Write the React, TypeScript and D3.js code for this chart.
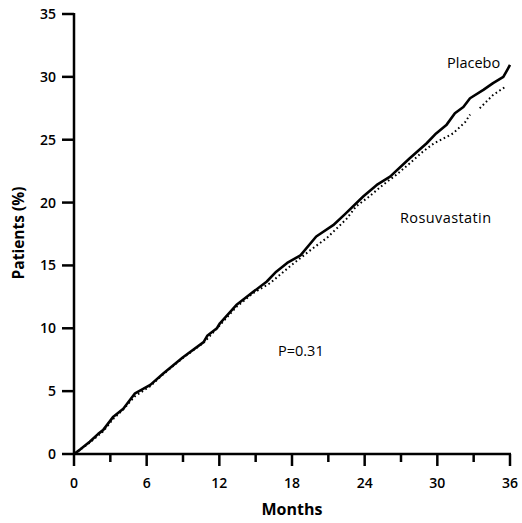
import React from "react";
import * as d3 from "d3";

// Months and cumulative percentages
const placeboMonths = [0, 0.5, 1.3, 2.0, 2.4, 3.25, 4.07, 5.04, 6.3, 7.37, 9.0, 10.7, 11.0, 11.8, 12.05, 13.4, 14.8, 15.9, 16.7, 17.6, 18.7, 20.0, 21.4, 22.4, 23.9, 25.0, 26.1, 27.7, 29.1, 29.9, 30.77, 31.45, 32.15, 32.7, 33.8, 34.6, 35.45, 35.8, 36];
const placeboValues = [0, 0.35, 0.98, 1.6, 1.9, 2.97, 3.6, 4.83, 5.5, 6.4, 7.7, 8.9, 9.4, 10.0, 10.4, 11.85, 12.9, 13.7, 14.5, 15.2, 15.8, 17.3, 18.2, 19.1, 20.5, 21.4, 22.06, 23.5, 24.7, 25.5, 26.2, 27.1, 27.6, 28.3, 28.96, 29.5, 30.0, 30.6, 30.95];

const rosuMonths = [0, 1.3, 2.4, 3.25, 4.07, 5.04, 6.3, 7.37, 9.0, 10.7, 12.0, 13.4, 14.8, 16.2, 17.8, 19.5, 20.9, 22.5, 23.3, 24.4, 25.5, 26.6, 27.7, 28.8, 29.7, 31.3, 32.3, 32.7, 33.5, 34.6, 35.6];
const rosuValues = [0, 0.9, 1.8, 2.8, 3.55, 4.6, 5.4, 6.35, 7.65, 8.85, 10.2, 11.7, 12.8, 13.6, 14.9, 16.2, 17.2, 18.7, 19.7, 20.5, 21.4, 22.2, 23.1, 24.05, 24.7, 25.5, 26.4, 27.0, 27.5, 28.56, 29.2];
// the dotted curve has a visible break here
const rosuGapAfter = 32.7;

const xTicks = [0, 6, 12, 18, 24, 30, 36];
const xMinorTicks = [3, 9, 15, 21, 27, 33];
const yTicks = [0, 5, 10, 15, 20, 25, 30, 35];

const W = 522;
const H = 523;
const font = "'Open Sans', 'DejaVu Sans', sans-serif";

export default function App() {
  const x = d3.scaleLinear().domain([0, 36]).range([74, 510]);
  const y = d3.scaleLinear().domain([0, 35]).range([454, 14]);

  const line = d3
    .line<[number, number]>()
    .x((d) => x(d[0]))
    .y((d) => y(d[1]));

  const placebo = placeboMonths.map((m, i) => [m, placeboValues[i]] as [number, number]);
  const rosu = rosuMonths.map((m, i) => [m, rosuValues[i]] as [number, number]);
  const rosuA = rosu.filter((d) => d[0] <= rosuGapAfter);
  const rosuB = rosu.filter((d) => d[0] > rosuGapAfter);

  return (
    <div style={{ position: "fixed", left: 0, top: 0 }}>
      <svg width={W} height={H} style={{ display: "block", background: "#fff" }}>
        {/* curves */}
        <path d={line(rosuA) || ""} fill="none" stroke="#000" strokeWidth={2} strokeDasharray="1.6 2.8" />
        <path d={line(rosuB) || ""} fill="none" stroke="#000" strokeWidth={2} strokeDasharray="1.6 2.8" />
        <path d={line(placebo) || ""} fill="none" stroke="#000" strokeWidth={2.6} strokeLinejoin="round" />

        {/* y axis */}
        <line x1={x(0)} x2={x(0)} y1={y(35) - 1} y2={y(0) + 1} stroke="#000" strokeWidth={2.5} />
        {yTicks.map((t) => (
          <g key={"y" + t}>
            <line x1={x(0) - 12} x2={x(0)} y1={y(t)} y2={y(t)} stroke="#000" strokeWidth={2.5} />
            <text x={x(0) - 18} y={y(t) + 5} textAnchor="end" fontSize={14} fontFamily={font} fontWeight={600}>
              {t}
            </text>
          </g>
        ))}

        {/* x axis */}
        <line x1={x(0) - 1} x2={x(36) + 1} y1={y(0)} y2={y(0)} stroke="#000" strokeWidth={2.5} />
        {xTicks.map((t) => (
          <g key={"x" + t}>
            <line x1={x(t)} x2={x(t)} y1={y(0)} y2={y(0) + 12} stroke="#000" strokeWidth={2.5} />
            <text x={x(t)} y={488} textAnchor="middle" fontSize={14} fontFamily={font} fontWeight={600}>
              {t}
            </text>
          </g>
        ))}
        {xMinorTicks.map((t) => (
          <line key={"m" + t} x1={x(t)} x2={x(t)} y1={y(0)} y2={y(0) + 8} stroke="#000" strokeWidth={2.5} />
        ))}

        {/* axis titles */}
        <text x={292} y={515} textAnchor="middle" fontSize={16} fontFamily={font} fontWeight={700}>
          Months
        </text>
        <text
          transform={`translate(24,233) rotate(-90)`}
          textAnchor="middle"
          fontSize={15.5}
          fontFamily={font}
          fontWeight={700}
        >
          Patients (%)
        </text>

        {/* labels */}
        <text x={447} y={68} fontSize={14.5} fontFamily={font}>Placebo</text>
        <text x={400} y={223} fontSize={14.5} fontFamily={font} letterSpacing={0.4}>Rosuvastatin</text>
        <text x={278} y={356} fontSize={14.5} fontFamily={font}>P=0.31</text>
      </svg>
    </div>
  );
}
